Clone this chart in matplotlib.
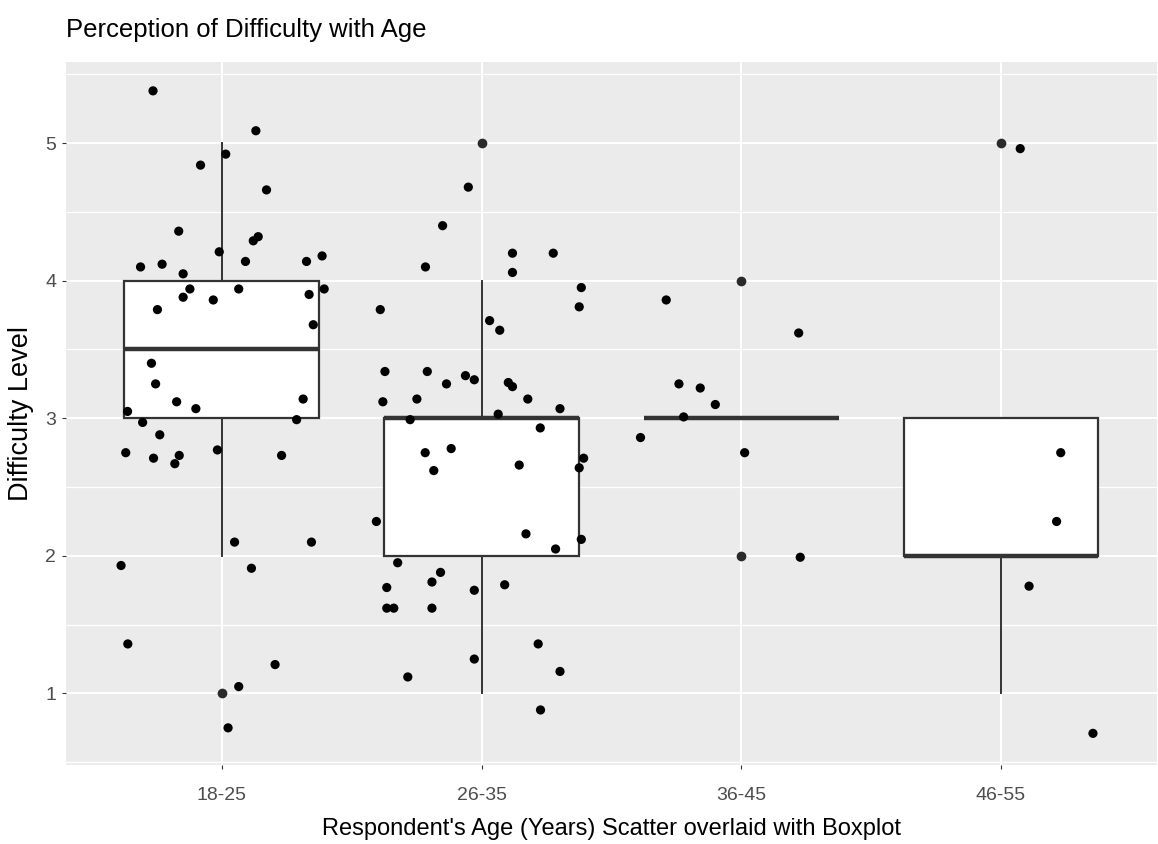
import matplotlib
matplotlib.use("Agg")
import matplotlib.pyplot as plt

# --- data ---
age_groups = ["18-25", "26-35", "36-45", "46-55"]

# box statistics per age group
q1 = [3.0, 2.0, 3.0, 2.0]
median = [3.5, 3.0, 3.0, 2.0]
q3 = [4.0, 3.0, 3.0, 3.0]
whisker_low = [2.0, 1.0, 3.0, 1.0]
whisker_high = [5.0, 4.0, 3.0, 3.0]
outliers = [[1.0], [5.0], [4.0, 2.0], [5.0]]

# jittered scatter points (x position on the category axis, difficulty)
x_1825 = [0.735, 1.131, 1.015, 0.918, 1.172, 0.834, 1.121, 1.140, 0.990, 0.687,
          0.770, 1.091, 0.851, 1.326, 1.386, 0.877, 0.851, 0.967, 1.065, 1.336,
          1.394, 0.752, 1.352, 0.729, 0.745, 0.826, 0.900, 1.313, 0.637, 1.288,
          0.695, 0.761, 0.630, 0.737, 0.836, 0.819, 0.983, 1.230, 1.049, 1.345,
          0.612, 1.114, 0.638, 1.205, 1.065, 1.024]
y_1825 = [5.38, 5.09, 4.92, 4.84, 4.66, 4.36, 4.29, 4.32, 4.21, 4.10,
          4.12, 4.14, 4.05, 4.14, 4.18, 3.94, 3.88, 3.86, 3.94, 3.90,
          3.94, 3.79, 3.68, 3.40, 3.25, 3.12, 3.07, 3.14, 3.05, 2.99,
          2.97, 2.88, 2.75, 2.71, 2.73, 2.67, 2.77, 2.73, 2.10, 2.10,
          1.93, 1.91, 1.36, 1.21, 1.05, 0.75]

x_2635 = [1.949, 1.850, 1.784, 2.119, 2.276, 2.119, 2.384, 2.376, 1.610, 2.031,
          2.070, 1.628, 1.791, 1.865, 1.938, 1.972, 2.103, 2.119, 1.620, 1.751,
          2.178, 2.302, 2.064, 1.725, 2.226, 1.783, 1.883, 1.816, 2.145, 2.393,
          2.376, 1.595, 2.171, 2.384, 2.285, 1.677, 1.842, 1.809, 1.635, 1.972,
          2.089, 1.635, 1.662, 1.809, 2.218, 1.972, 2.302, 1.716, 2.227]
y_2635 = [4.68, 4.40, 4.10, 4.20, 4.20, 4.06, 3.95, 3.81, 3.79, 3.71,
          3.64, 3.34, 3.34, 3.25, 3.31, 3.28, 3.26, 3.23, 3.12, 3.14,
          3.14, 3.07, 3.03, 2.99, 2.93, 2.75, 2.78, 2.62, 2.66, 2.71,
          2.64, 2.25, 2.16, 2.12, 2.05, 1.95, 1.88, 1.81, 1.77, 1.75,
          1.79, 1.62, 1.62, 1.62, 1.36, 1.25, 1.16, 1.12, 0.88]

x_3645 = [2.711, 3.221, 2.760, 2.842, 2.900, 2.778, 2.612, 3.013, 3.227]
y_3645 = [3.86, 3.62, 3.25, 3.22, 3.10, 3.01, 2.86, 2.75, 1.99]

x_4655 = [4.074, 4.230, 4.214, 4.108, 4.354]
y_4655 = [4.96, 2.75, 2.25, 1.78, 0.71]

plt.rcParams["font.family"] = ["Liberation Sans", "DejaVu Sans"]

fig = plt.figure(figsize=(11.58, 8.44), dpi=100)
ax = fig.add_axes([0.057, 0.0936, 0.942, 0.833])
ax.set_facecolor("#EBEBEB")

positions = list(range(1, len(age_groups) + 1))
stats = []
for i, name in enumerate(age_groups):
    stats.append({
        "label": name,
        "q1": q1[i], "med": median[i], "q3": q3[i],
        "whislo": whisker_low[i], "whishi": whisker_high[i],
        "fliers": outliers[i],
    })

ax.bxp(stats, positions=positions, widths=0.75, patch_artist=True,
       showcaps=False,
       boxprops=dict(facecolor="white", edgecolor="#333333", linewidth=1.6),
       medianprops=dict(color="#333333", linewidth=3.2),
       whiskerprops=dict(color="#333333", linewidth=1.4),
       flierprops=dict(marker="o", markerfacecolor="#2a2a2a",
                       markeredgecolor="none", markersize=7))

for xs, ys in [(x_1825, y_1825), (x_2635, y_2635), (x_3645, y_3645), (x_4655, y_4655)]:
    ax.scatter(xs, ys, s=44, color="black", edgecolors="none", zorder=3)

# ggplot-like grid
ax.set_xlim(0.4, 4.6)
ax.set_ylim(0.48, 5.59)
ax.set_xticks(positions)
ax.set_xticklabels(age_groups)
ax.set_yticks([1, 2, 3, 4, 5])
ax.set_yticks([0.5, 1.5, 2.5, 3.5, 4.5, 5.5], minor=True)
ax.grid(which="major", color="white", linewidth=1.5)
ax.grid(which="minor", axis="y", color="white", linewidth=0.9)
ax.set_axisbelow(True)
for s in ax.spines.values():
    s.set_visible(False)
ax.tick_params(which="major", length=3, color="#333333", labelcolor="#4D4D4D",
               labelsize=14)
ax.tick_params(axis="x", pad=13)
ax.tick_params(axis="y", pad=4)
ax.tick_params(which="minor", length=0)

ax.set_xlabel("Respondent's Age (Years) Scatter overlaid with Boxplot",
              fontsize=17, color="black", labelpad=10)
ax.set_ylabel("Difficulty Level", fontsize=19.5, color="black", labelpad=8)
ax.set_title("Perception of Difficulty with Age", fontsize=18.5, loc="left",
             pad=18, color="black")

fig.savefig("out.png", dpi=100)
